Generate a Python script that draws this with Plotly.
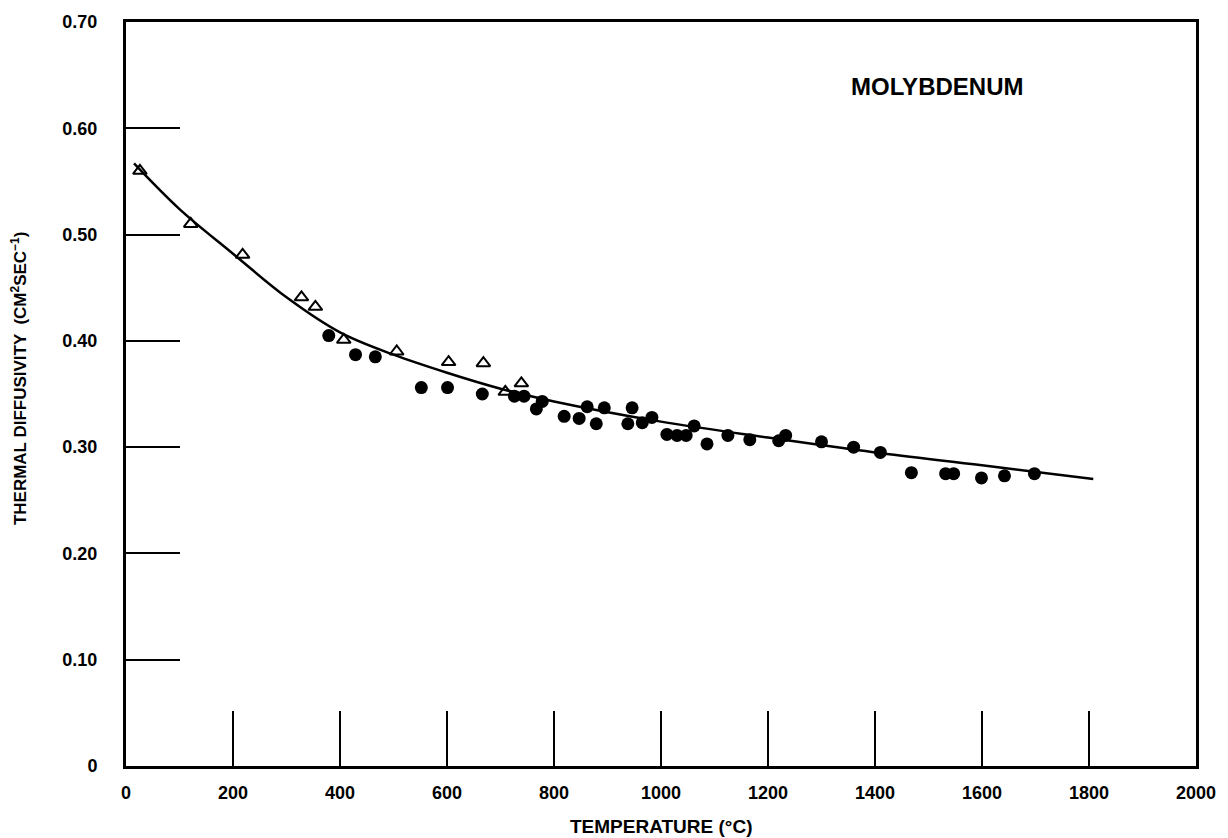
import plotly.graph_objects as go

# Open triangles (earlier measurements)
tri_T = [26, 121, 218, 328, 354, 407, 506, 603, 668, 709, 739]
tri_D = [0.560, 0.510, 0.481, 0.441, 0.432, 0.401, 0.390, 0.380, 0.379, 0.352, 0.360]

# Filled circles
dot_T = [379, 429, 466, 552, 601, 666, 726, 744, 767, 778, 819, 847, 862, 879, 894,
         938, 946, 965, 983, 1011, 1030, 1047, 1062, 1086, 1125, 1166, 1220, 1233,
         1300, 1360, 1410, 1468, 1532, 1547, 1599, 1642, 1698]
dot_D = [0.405, 0.387, 0.385, 0.356, 0.356, 0.350, 0.348, 0.348, 0.336, 0.343, 0.329,
         0.327, 0.338, 0.322, 0.337, 0.322, 0.337, 0.323, 0.328, 0.312, 0.311, 0.311,
         0.320, 0.303, 0.311, 0.307, 0.306, 0.311, 0.305, 0.300, 0.295, 0.276, 0.275,
         0.275, 0.271, 0.273, 0.275]

# Fitted curve
fit_T = [15, 100, 200, 300, 400, 500, 600, 700, 800, 1000, 1200, 1400, 1600, 1808]
fit_D = [0.567, 0.524, 0.482, 0.441, 0.408, 0.387, 0.370, 0.355, 0.343, 0.324, 0.309,
         0.295, 0.283, 0.270]

x_ticks = [0, 200, 400, 600, 800, 1000, 1200, 1400, 1600, 1800, 2000]
y_ticks = [0, 0.1, 0.2, 0.3, 0.4, 0.5, 0.6, 0.7]
y_labels = ["0", "0.10", "0.20", "0.30", "0.40", "0.50", "0.60", "0.70"]

FONT = "Liberation Sans"

fig = go.Figure()
fig.add_trace(go.Scatter(x=fit_T, y=fit_D, mode="lines",
                         line=dict(color="black", width=2.5, shape="spline", smoothing=1.0),
                         hoverinfo="skip", showlegend=False))
fig.add_trace(go.Scatter(x=tri_T, y=tri_D, mode="markers",
                         marker=dict(symbol="triangle-up-open", size=12, color="black",
                                     line=dict(width=2, color="black")),
                         showlegend=False))
fig.add_trace(go.Scatter(x=dot_T, y=dot_D, mode="markers",
                         marker=dict(symbol="circle", size=13, color="black"),
                         showlegend=False))

fig.add_annotation(x=1515, y=0.639, text="<b>MOLYBDENUM</b>", showarrow=False,
                   font=dict(family=FONT, size=24, color="black"))

# axis titles placed as annotations
fig.add_annotation(xref="paper", yref="paper", x=0.5, y=-0.081, yanchor="middle",
                   text="<b>TEMPERATURE (°C)</b>", showarrow=False,
                   font=dict(family=FONT, size=19, color="black"))
fig.add_annotation(xref="paper", yref="paper", x=-0.1, y=0.52, xanchor="center",
                   yanchor="middle", textangle=-90,
                   text="<b>THERMAL DIFFUSIVITY  (CM<sup>2</sup>SEC<sup>−1</sup>)</b>",
                   showarrow=False, font=dict(family=FONT, size=17, color="black"))

fig.update_layout(
    width=1228, height=838,
    margin=dict(l=126, r=30, t=20, b=72),
    paper_bgcolor="white", plot_bgcolor="white",
    font=dict(family=FONT, color="black"),
)
fig.update_xaxes(
    range=[0, 2000], tickvals=x_ticks, ticktext=[str(v) for v in x_ticks],
    ticks="inside", ticklen=55, tickwidth=2, tickcolor="black",
    showline=True, linewidth=3, linecolor="black", mirror=True,
    showgrid=False, zeroline=False, ticklabelstandoff=8,
    tickfont=dict(family=FONT, size=18, weight="bold"),
)
fig.update_yaxes(
    range=[0, 0.70], tickvals=y_ticks, ticktext=y_labels,
    ticks="inside", ticklen=54, tickwidth=2, tickcolor="black",
    showline=True, linewidth=3, linecolor="black", mirror=True,
    showgrid=False, zeroline=False, ticklabelstandoff=22,
    tickfont=dict(family=FONT, size=18, weight="bold"),
)

fig.write_html("out.html")
